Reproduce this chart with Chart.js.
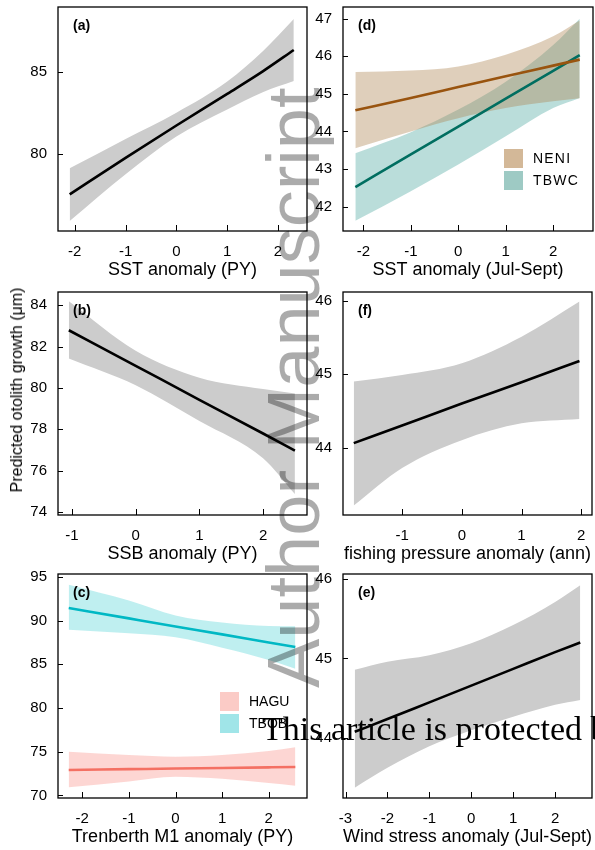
<!DOCTYPE html>
<html>
<head>
<meta charset="utf-8">
<script src="https://cdn.jsdelivr.net/npm/chart.js@4.4.1/dist/chart.umd.min.js"></script>
<style>
  html, body { margin: 0; padding: 0; background: #fff; width: 595px; height: 850px; overflow: hidden; }
  .panel { position: absolute; }
  .txt { position: absolute; white-space: nowrap; font-family: "Liberation Sans", Arial, sans-serif; color: #000; }
  .key { position: absolute; width: 19px; height: 19px; }
  #ylab { left: 17px; top: 390px; font-size: 16px; transform: translate(-50%, -50%) rotate(-90deg); }
  #wm { left: 257px; top: 688px; font-size: 74px; line-height: 1; color: rgba(0,0,0,0.33); transform-origin: 0 0; transform: rotate(-90deg); }
  #prot { left: 262px; top: 712px; font-family: "Liberation Serif", "DejaVu Serif", serif; font-size: 34px; line-height: 1; }
</style>
</head>
<body>

<script>
// (a) SST anomaly (PY)
const aX   = [-2.1, -1, 0, 1, 1.7, 2.31];
const aFit = [77.52, 79.75, 81.72, 83.65, 85.02, 86.32];
const aUpr = [79.11, 80.9, 82.5, 84.4, 86.25, 88.21];
const aLwr = [75.9, 78.75, 81.05, 82.7, 83.75, 84.43];
const aXTicks = [-2, -1, 0, 1, 2];
const aYTicks = [80, 85];

// (b) SSB anomaly (PY)
const bX   = [-1.05, 0, 1, 2, 2.5];
const bFit = [82.79, 81.07, 79.43, 77.8, 76.97];
const bUpr = [84.19, 81.8, 80.5, 79.95, 79.73];
const bLwr = [81.42, 80.13, 78.4, 76.6, 74.87];
const bXTicks = [-1, 0, 1, 2];
const bYTicks = [74, 76, 78, 80, 82, 84];

// (c) Trenberth M1 anomaly (PY), two sites
const cX = [-2.29, -1, 0, 1, 2, 2.57];
const cTbobFit = [91.45, 90.26, 89.34, 88.43, 87.5, 86.98];
const cTbobUpr = [94.1, 92.3, 90.6, 89.8, 89.4, 89.35];
const cTbobLwr = [88.97, 88.55, 88.1, 86.9, 85.5, 84.5];
const cHaguFit = [72.91, 73.0, 73.07, 73.14, 73.21, 73.25];
const cHaguUpr = [75.0, 74.62, 74.43, 74.62, 75.08, 75.5];
const cHaguLwr = [70.92, 71.6, 72.14, 71.9, 71.42, 71.1];
const cXTicks = [-2, -1, 0, 1, 2];
const cYTicks = [70, 75, 80, 85, 90, 95];

// (d) SST anomaly (Jul-Sept), two sites
const dX = [-2.17, -1, 0, 1, 2, 2.56];
const dNeniFit = [44.56, 44.89, 45.18, 45.47, 45.75, 45.91];
const dNeniUpr = [45.58, 45.62, 45.73, 46.04, 46.53, 46.95];
const dNeniLwr = [43.55, 44.0, 44.35, 44.62, 44.8, 44.88];
const dTbwcFit = [42.52, 43.39, 44.13, 44.87, 45.61, 46.03];
const dTbwcUpr = [43.42, 43.98, 44.58, 45.32, 46.3, 47.0];
const dTbwcLwr = [41.62, 42.41, 43.12, 43.87, 44.62, 44.89];
const dXTicks = [-2, -1, 0, 1, 2];
const dYTicks = [42, 43, 44, 45, 46, 47];

// (f) fishing pressure anomaly (ann)
const fX   = [-1.81, -1, 0, 1, 1.97];
const fFit = [44.06, 44.30, 44.60, 44.89, 45.18];
const fUpr = [44.9, 44.99, 45.15, 45.51, 45.99];
const fLwr = [43.21, 43.72, 44.1, 44.33, 44.39];
const fXTicks = [-1, 0, 1, 2];
const fYTicks = [44, 45, 46];

// (e) Wind stress anomaly (Jul-Sept)
const eX   = [-2.78, -2, -1, 0, 1, 2, 2.6];
const eFit = [44.08, 44.24, 44.45, 44.66, 44.87, 45.08, 45.2];
const eUpr = [44.86, 44.96, 45.04, 45.19, 45.42, 45.71, 45.92];
const eLwr = [43.38, 43.63, 43.9, 44.1, 44.27, 44.42, 44.48];
const eXTicks = [-3, -2, -1, 0, 1, 2];
const eYTicks = [44, 45, 46];

const FONT = '"Liberation Sans", Arial, sans-serif';
const GREY = '#cccccc';
const AXIS_W = 55, AXIS_H = 50, PAD_T = 3, PAD_R = 2;

// box + inward ticks + panel letter, like R's default look
const framePlugin = {
  id: 'frame',
  afterDatasetsDraw(chart, args, opts) {
    const { ctx, chartArea: a, scales: { x, y } } = chart;
    ctx.save();
    ctx.strokeStyle = '#000';
    ctx.lineWidth = 1.3;
    ctx.strokeRect(a.left, a.top, a.right - a.left, a.bottom - a.top);
    ctx.lineWidth = 1;
    ctx.beginPath();
    x.ticks.forEach(t => {
      const px = Math.round(x.getPixelForValue(t.value)) + 0.5;
      ctx.moveTo(px, a.bottom);
      ctx.lineTo(px, a.bottom - 6);
    });
    y.ticks.forEach(t => {
      const py = Math.round(y.getPixelForValue(t.value)) + 0.5;
      ctx.moveTo(a.left, py);
      ctx.lineTo(a.left + 5, py);
    });
    ctx.stroke();
    ctx.fillStyle = '#000';
    ctx.font = 'bold 14px ' + FONT;
    ctx.textBaseline = 'middle';
    ctx.fillText(opts.label, a.left + 15, a.top + 19);
    ctx.restore();
  }
};

const pts = (xs, ys) => xs.map((x, i) => ({ x, y: ys[i] }));

function bandSets(xs, upr, lwr, color) {
  return [
    { data: pts(xs, upr), borderColor: 'transparent', borderWidth: 0, pointRadius: 0, fill: false, cubicInterpolationMode: 'monotone', order: 2 },
    { data: pts(xs, lwr), borderColor: 'transparent', borderWidth: 0, pointRadius: 0, fill: '-1', backgroundColor: color, cubicInterpolationMode: 'monotone', order: 2 }
  ];
}

function fitSet(xs, fit, color) {
  return { data: pts(xs, fit), borderColor: color, borderWidth: 2.6, pointRadius: 0, fill: false, cubicInterpolationMode: 'monotone', order: 1 };
}

function makePanel(p) {
  const wrap = document.createElement('div');
  wrap.className = 'panel';
  const w = p.box[2] - p.box[0] + AXIS_W + PAD_R;
  const h = p.box[3] - p.box[1] + PAD_T + AXIS_H;
  wrap.style.left = (p.box[0] - AXIS_W) + 'px';
  wrap.style.top = (p.box[1] - PAD_T) + 'px';
  const cv = document.createElement('canvas');
  cv.width = w; cv.height = h;
  wrap.appendChild(cv);
  document.body.appendChild(wrap);

  return new Chart(cv, {
    type: 'line',
    data: { datasets: p.datasets },
    options: {
      responsive: false,
      animation: false,
      devicePixelRatio: 1,
      layout: { padding: { top: PAD_T, right: PAD_R, left: 0, bottom: 0 } },
      plugins: { legend: { display: false }, tooltip: { enabled: false }, frame: { label: p.label } },
      scales: {
        x: {
          type: 'linear', min: p.xr[0], max: p.xr[1],
          grid: { display: false, drawTicks: false }, border: { display: false },
          afterBuildTicks: s => { s.ticks = p.xTicks.map(v => ({ value: v })); },
          afterFit: s => { s.height = AXIS_H; s.paddingLeft = 0; s.paddingRight = 0; },
          ticks: { color: '#000', font: { family: FONT, size: 15 }, padding: 12, maxRotation: 0, autoSkip: false },
          title: { display: true, text: p.xTitle, color: '#000', font: { family: FONT, size: 18 }, padding: 0 }
        },
        y: {
          min: p.yr[0], max: p.yr[1],
          grid: { display: false, drawTicks: false }, border: { display: false },
          afterBuildTicks: s => { s.ticks = p.yTicks.map(v => ({ value: v })); },
          afterFit: s => { s.width = AXIS_W; s.paddingTop = 0; s.paddingBottom = 0; },
          ticks: { color: '#000', font: { family: FONT, size: 15 }, padding: 11, autoSkip: false }
        }
      }
    },
    plugins: [framePlugin]
  });
}

makePanel({
  label: '(a)', box: [58, 7, 307, 231], xr: [-2.33, 2.57], yr: [75.29, 88.94],
  xTicks: aXTicks, yTicks: aYTicks, xTitle: 'SST anomaly (PY)',
  datasets: [fitSet(aX, aFit, '#000'), ...bandSets(aX, aUpr, aLwr, GREY)]
});
makePanel({
  label: '(d)', box: [343, 7, 593, 231], xr: [-2.43, 2.84], yr: [41.35, 47.31],
  xTicks: dXTicks, yTicks: dYTicks, xTitle: 'SST anomaly (Jul-Sept)',
  datasets: [
    fitSet(dX, dNeniFit, '#99540f'), fitSet(dX, dTbwcFit, '#006e60'),
    ...bandSets(dX, dNeniUpr, dNeniLwr, 'rgba(175,135,85,0.4)'),
    ...bandSets(dX, dTbwcUpr, dTbwcLwr, 'rgba(40,150,140,0.32)')
  ]
});
makePanel({
  label: '(b)', box: [58, 292, 307, 515], xr: [-1.22, 2.69], yr: [73.86, 84.64],
  xTicks: bXTicks, yTicks: bYTicks, xTitle: 'SSB anomaly (PY)',
  datasets: [fitSet(bX, bFit, '#000'), ...bandSets(bX, bUpr, bLwr, GREY)]
});
makePanel({
  label: '(f)', box: [343, 292, 592, 515], xr: [-1.99, 2.18], yr: [43.08, 46.12],
  xTicks: fXTicks, yTicks: fYTicks, xTitle: 'fishing pressure anomaly (ann)',
  datasets: [fitSet(fX, fFit, '#000'), ...bandSets(fX, fUpr, fLwr, GREY)]
});
makePanel({
  label: '(c)', box: [58, 574, 307, 798], xr: [-2.52, 2.82], yr: [69.7, 95.34],
  xTicks: cXTicks, yTicks: cYTicks, xTitle: 'Trenberth M1 anomaly (PY)',
  datasets: [
    fitSet(cX, cTbobFit, '#00b8c4'), fitSet(cX, cHaguFit, '#f47063'),
    ...bandSets(cX, cTbobUpr, cTbobLwr, 'rgba(0,191,196,0.25)'),
    ...bandSets(cX, cHaguUpr, cHaguLwr, 'rgba(248,118,109,0.3)')
  ]
});
makePanel({
  label: '(e)', box: [343, 574, 592, 798], xr: [-3.06, 2.88], yr: [43.25, 46.06],
  xTicks: eXTicks, yTicks: eYTicks, xTitle: 'Wind stress anomaly (Jul-Sept)',
  datasets: [fitSet(eX, eFit, '#000'), ...bandSets(eX, eUpr, eLwr, GREY)]
});
</script>

<!-- legends -->
<div class="key" style="left:504px;top:149px;background:#d3b898"></div>
<div class="key" style="left:504px;top:171px;background:#9ecac4"></div>
<div class="txt" style="left:533px;top:150px;font-size:14px;letter-spacing:1.2px">NENI</div>
<div class="txt" style="left:533px;top:172px;font-size:14px;letter-spacing:1.2px">TBWC</div>
<div class="key" style="left:220px;top:692px;background:#fbcbc6"></div>
<div class="key" style="left:220px;top:714px;background:#a0e5e8"></div>
<div class="txt" style="left:249px;top:693px;font-size:14px">HAGU</div>
<div class="txt" style="left:249px;top:715px;font-size:14px">TBOB</div>

<div class="txt" id="ylab">Predicted otolith growth (μm)</div>
<div class="txt" id="wm">Author Manuscript</div>
<div class="txt" id="prot">This article is protected by copyright. All rights reserved</div>
</body>
</html>
